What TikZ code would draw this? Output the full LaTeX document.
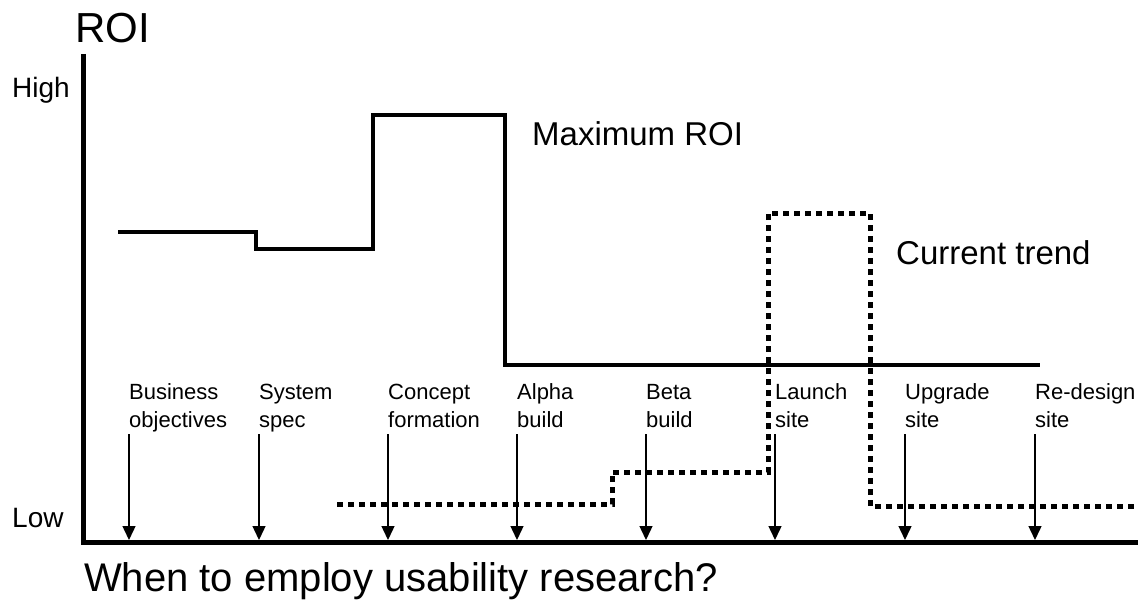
\documentclass[tikz,border=0pt]{standalone}
\usepackage{fontspec}
\setmainfont{Liberation Sans}
\usetikzlibrary{arrows.meta}
\tikzset{
	txt/.style = {inner sep=0pt, anchor=base west},
	txt_big/.style = {txt, font=\fontsize{42}{48}\selectfont},% titre axe
	txt_lvl/.style = {txt, font=\fontsize{28}{32}\selectfont},% haut / bas
	txt_crv/.style = {txt, font=\fontsize{33}{38}\selectfont},% nom de courbe
	txt_q/.style = {txt, font=\fontsize{40}{46}\selectfont},% question
	stage_lbl/.style = {inner sep=0pt, anchor=north west, align=left,
		font=\fontsize{22}{28}\selectfont},% etape
	axe/.style = {line width=5pt, line join=miter},
	roi_max/.style = {line width=4.5pt, line join=miter},% courbe max
	roi_cur/.style = {line width=5pt, dash pattern=on 6pt off 5pt},% tendance
	stage/.style = {line width=1.4pt, -{Triangle[width=13pt,length=14pt]}}
}

\begin{document}
\begin{tikzpicture}[x=1pt,y=-1pt]
	\useasboundingbox (0,0) rectangle (1138,602);
	% axes
	\coordinate (ytop) at (83,54);
	\coordinate (orig) at (83,542.5);
	\coordinate (xend) at (1138,542.5);
	\coordinate (tips) at (0,540);
	\draw[axe] (ytop) -- (orig) -- (xend);
	\node[txt_big] (roi) at (75,43) {ROI};
	\node[txt_lvl] (high) at (12,98) {High};
	\node[txt_lvl] (low) at (12,527) {Low};
	\node[txt_q] (quest) at (84,591) {When to employ usability research?};
	% courbes
	\draw[roi_max] (118,232) -- (256,232) -- (256,249) -- (373,249)
		-- (373,115) -- (505,115) -- (505,365) -- (1040,365);
	\draw[roi_cur] (337,504) -- (612,504) -- (612,472) -- (768,472)
		-- (768,213) -- (870,213) -- (870,506) -- (1138,506);
	\node[txt_crv] (maxroi) at (532,145) {Maximum ROI};
	\node[txt_crv] (trend) at (896,264) {Current trend};
	% etapes (strut: 19.6pt au-dessus de la ligne de base)
	\node[stage_lbl] (s1) at (129,379.4) {\strut Business\\objectives};
	\node[stage_lbl] (s2) at (259,379.4) {\strut System\\spec};
	\node[stage_lbl] (s3) at (388,379.4) {\strut Concept\\formation};
	\node[stage_lbl] (s4) at (517,379.4) {\strut Alpha\\build};
	\node[stage_lbl] (s5) at (646,379.4) {\strut Beta\\build};
	\node[stage_lbl] (s6) at (775,379.4) {\strut Launch\\site};
	\node[stage_lbl] (s7) at (905,379.4) {\strut Upgrade\\site};
	\node[stage_lbl] (s8) at (1035,379.4) {\strut Re-design\\site};
	\coordinate (t1) at (129,434);
	\coordinate (t2) at (259,434);
	\coordinate (t3) at (388,434);
	\coordinate (t4) at (517,434);
	\coordinate (t5) at (646,434);
	\coordinate (t6) at (775,434);
	\coordinate (t7) at (905,434);
	\coordinate (t8) at (1035,434);
	\draw[stage] (t1) -- (t1 |- tips);
	\draw[stage] (t2) -- (t2 |- tips);
	\draw[stage] (t3) -- (t3 |- tips);
	\draw[stage] (t4) -- (t4 |- tips);
	\draw[stage] (t5) -- (t5 |- tips);
	\draw[stage] (t6) -- (t6 |- tips);
	\draw[stage] (t7) -- (t7 |- tips);
	\draw[stage] (t8) -- (t8 |- tips);
\end{tikzpicture}
\end{document}
